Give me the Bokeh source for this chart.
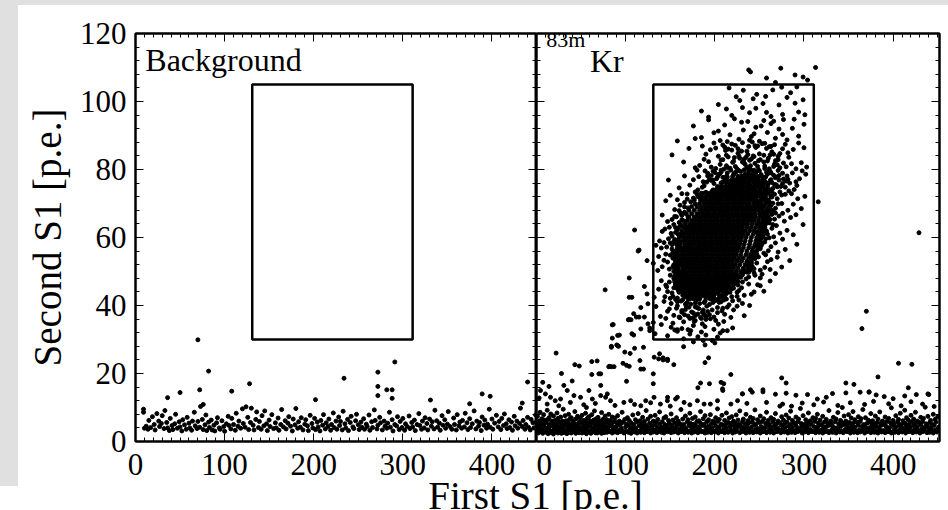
from bokeh.plotting import figure
from bokeh.models import (Range1d, LinearAxis, SingleIntervalTicker, Label, Row, Column,
                          CustomLabelingPolicy)
from bokeh.embed import file_html
from bokeh.resources import INLINE

# ---------------- data ----------------
x_ticks_step = 100
y_ticks_step = 20
cut_box = [131, 311, 30, 105]          # left, right, bottom, top  [p.e.]

bg_band = [
(9,8.6),(10,3.9),(12,4.5),(14,3.6),(15,6.2),(17,4.1),(19,7.3),(21,5.0),(22,3.4),(24,8.2),(26,6.0),(27,4.4),(29,5.3),(30,7.6),
(32,3.8),(33,9.1),(35,5.6),(36,4.0),(38,3.2),(39,6.8),(41,4.7),(42,3.5),(44,5.2),(45,8.0),(47,3.9),(49,5.8),(50,4.3),(52,3.1),(53,6.4),(55,4.9),
(57,3.6),(58,7.1),(60,5.4),(61,4.0),(63,3.3),(64,6.0),(66,8.6),(67,4.6),(69,3.8),(70,5.9),(72,4.2),(73,10.3),(75,6.5),(76,3.5),(78,4.9),(79,7.8),(80,3.2),
(82,5.7),(83,4.1),(85,6.3),(86,3.4),(88,4.8),(89,3.1),(91,5.5),(92,7.0),(94,4.0),(95,3.6),(97,6.1),(99,4.4),(100,3.0),(102,5.2),(104,7.4),(105,4.7),
(107,3.7),(108,6.8),(110,5.0),(112,3.3),(113,8.3),(115,4.5),(116,6.0),(118,3.9),(120,9.6),(121,5.3),(123,4.2),(124,10.2),(126,7.1),(127,3.5),(129,5.6),(130,9.8),
(132,4.8),(133,3.4),(135,6.5),(136,8.7),(138,4.1),(139,5.9),(141,3.6),(142,7.6),(144,4.6),(145,9.0),(147,5.2),(148,3.2),(150,6.3),(151,4.4),(153,7.9),(155,3.8),
(157,5.5),(158,4.0),(160,6.9),(161,3.3),(163,5.0),(164,9.4),(166,4.3),(168,6.1),(169,3.7),(171,5.4),(172,7.3),(174,4.5),(176,3.1),(177,6.6),(179,4.9),(180,9.7),
(182,3.9),(183,5.8),(185,4.2),(186,7.0),(188,3.4),(190,5.1),(191,6.4),(193,4.6),(194,3.2),(196,7.7),(198,5.3),(199,4.0),(201,6.8),(202,3.5),(204,5.7),(205,4.3),
(207,3.1),(208,6.2),(210,4.8),(211,7.9),(213,3.7),(214,5.5),(216,4.4),(217,6.6),(219,3.3),(220,5.0),(222,8.4),(223,4.1),(225,6.0),(226,3.6),(228,7.2),(229,4.7),(230,5.9),
(232,3.4),(233,8.9),(235,5.2),(236,4.0),(238,6.5),(239,3.2),(241,5.6),(242,7.4),(244,4.3),(245,3.8),(247,6.1),(248,8.0),(250,4.9),(251,3.5),(253,5.7),(254,4.2),
(256,6.7),(257,3.6),(259,5.1),(260,4.4),(262,7.8),(263,3.3),(265,5.8),(266,4.1),(268,9.3),(269,6.2),(271,3.7),(272,4.8),(274,7.1),(275,5.5),(277,3.4),(279,6.0),(280,4.5),
(282,3.9),(283,5.4),(285,8.6),(286,4.2),(288,6.4),(289,3.1),(291,5.0),(293,4.6),(294,7.3),(296,3.5),(297,5.9),(299,4.1),(300,6.8),(302,3.3),(303,5.2),(305,4.4),
(307,7.5),(308,3.8),(310,5.6),(311,4.3),(313,6.3),(314,3.2),(316,5.0),(318,8.2),(319,4.7),(321,3.6),(322,6.0),(324,4.0),(325,7.0),(327,5.3),(328,3.4),(330,6.6),
(332,4.5),(333,5.8),(335,3.7),(336,9.2),(338,6.1),(339,4.2),(341,5.4),(342,3.3),(344,7.6),(345,4.8),(347,6.4),(348,3.9),(350,5.1),(351,8.8),(353,4.4),(355,3.6),
(357,6.9),(358,5.0),(360,3.4),(361,7.9),(363,4.6),(364,5.7),(366,3.9),(367,6.2),(369,4.3),(370,8.3),(372,5.5),(373,3.5),(375,6.7),(376,4.1),(378,5.2),(380,9.0),
(382,3.7),(383,6.0),(385,4.5),(386,5.6),(388,3.2),(389,7.2),(391,4.8),(392,6.3),(394,3.9),(395,5.1),(397,9.5),(398,4.2),(400,6.6),(401,3.6),(403,5.4),(405,7.7),
(407,4.3),(408,5.9),(410,3.5),(411,6.8),(413,4.7),(414,8.1),(416,5.2),(417,3.8),(419,6.4),(420,4.1),(422,5.7),(423,3.3),(425,7.4),(426,4.6),(428,6.0),(429,3.9),
(431,5.3),(432,9.8),(434,4.4),(435,6.2),(437,3.6),(438,5.0),(440,7.1),(441,4.2),(443,3.4),(444,6.5),(446,5.5),(447,4.0),(449,7.8),(450,5.8),
]
bg_outliers = [
(70,29.9),(82,20.7),(72,15.2),(36,12.9),(50,14.4),(108,14.8),(128,17.0),(234,18.6),(272,20.4),(272,16.2),
(282,15.2),(288,15.2),(288,12.7),(272,13.5),(291,23.4),(440,17.5),(389,14.0),(398,13.3),(331,12.2),(375,11.1),
(434,11.3),(202,12.3),(76,10.9),(9,9.5),
]

kr_band = [
(0,5.1),(1,3.2),(1,7.4),(2,4.6),(2,2.5),(3,6.0),(3,3.8),(4,8.6),(4,5.3),(5,2.9),(5,4.2),(6,6.7),(6,3.5),(7,5.8),(7,2.4),(8,4.9),(8,7.9),(9,3.1),(9,6.3),(10,4.0),
(11,2.7),(11,5.5),(12,3.9),(12,9.2),(13,6.5),(13,2.3),(14,4.4),(14,7.0),(15,3.3),(15,5.0),(16,2.6),(16,8.1),(17,4.7),(17,6.0),(18,3.0),(18,5.4),(19,2.2),(19,7.5),(20,4.1),(20,3.4),
(21,6.2),(21,2.8),(22,5.0),(22,3.7),(23,8.4),(23,4.5),(24,2.5),(24,6.8),(25,3.6),(25,5.7),(26,2.9),(26,4.3),(27,7.2),(27,3.2),(28,5.2),(28,2.4),(29,6.0),(29,4.0),(30,3.1),(30,9.5),
(31,5.4),(31,2.6),(32,4.6),(32,7.6),(33,3.4),(33,6.1),(34,2.3),(34,4.9),(35,5.9),(35,3.0),(36,8.0),(36,4.2),(37,2.7),(37,6.5),(38,3.8),(38,5.1),(39,2.5),(39,7.0),(40,4.4),(40,3.3),
(41,6.0),(41,2.9),(42,5.3),(42,3.6),(43,8.8),(43,4.1),(44,2.4),(44,6.6),(45,3.9),(45,5.0),(46,2.8),(46,7.4),(47,4.5),(47,3.2),(48,5.8),(48,2.6),(49,6.9),(49,4.0),(50,3.4),(50,5.5),
(51,2.5),(51,7.7),(52,4.3),(52,3.1),(53,6.2),(53,5.0),(54,2.7),(54,4.7),(55,8.3),(55,3.5),(56,5.6),(56,2.3),(57,6.8),(57,4.2),(58,3.0),(58,5.1),(59,7.3),(59,2.8),(60,4.6),(60,6.0),
(61,3.3),(61,2.4),(62,5.4),(62,7.9),(63,4.0),(63,2.9),(64,6.3),(64,3.7),(65,5.2),(65,9.0),(66,2.6),(66,4.5),(67,6.7),(67,3.2),(68,5.7),(68,2.5),(69,4.3),(69,7.1),(70,3.6),(70,5.0),
(71,2.8),(71,6.1),(72,4.8),(72,3.4),(73,8.5),(73,2.4),(74,5.5),(74,4.0),(75,6.6),(75,3.0),(76,5.0),(76,2.6),(77,7.5),(77,4.4),(78,3.3),(78,5.9),(79,2.7),(79,6.4),(80,4.2),(80,3.5),
(81,5.3),(81,8.0),(82,2.9),(82,4.6),(83,6.2),(83,3.1),(84,5.0),(85,2.5),(85,7.2),(86,4.1),(86,3.6),(87,5.8),(88,2.8),(88,6.9),(89,4.4),(90,3.2),(90,5.6),
(91,2.6),(91,7.6),(92,4.9),(93,3.4),(93,6.0),(94,2.9),(95,5.3),(95,4.0),(96,8.6),(97,3.1),(97,5.7),(98,2.5),(99,6.5),(100,4.3),
(101,3.0),(101,5.1),(102,7.0),(103,2.7),(103,4.6),(104,6.2),(105,3.5),(106,5.5),(106,2.4),(107,4.2),(108,7.8),(108,3.2),(109,5.0),(110,2.8),
(111,6.4),(111,4.0),(112,3.3),(113,5.7),(113,2.5),(114,8.2),(115,4.6),(115,3.0),(116,6.1),(117,2.7),(118,5.2),(118,3.8),(119,7.1),(120,4.4),
(121,2.6),(121,5.9),(122,3.5),(123,4.8),(123,9.1),(124,2.9),(125,6.6),(125,4.1),(126,3.2),(127,5.4),(128,2.5),(128,7.4),(129,4.5),(130,3.6),
(131,6.0),(131,2.8),(132,4.9),(133,3.3),(133,7.7),(134,5.6),(135,2.6),(135,4.3),(136,6.5),(137,3.0),(138,5.2),(138,8.7),(139,3.9),(140,2.7),
(141,5.8),(141,4.2),(142,3.4),(143,6.9),(143,2.5),(144,5.0),(145,3.7),(145,7.3),(146,4.5),(147,2.9),(148,6.2),(148,3.2),(149,5.4),(150,4.0),
(151,2.6),(151,8.1),(152,4.7),(153,3.5),(153,6.3),(154,2.8),(155,5.5),(156,4.1),(156,3.0),(157,7.0),(158,4.9),(159,2.5),(159,6.0),(160,3.7),
(161,5.2),(162,2.9),(162,9.4),(163,4.4),(164,6.6),(164,3.3),(165,5.0),(166,2.6),(167,7.5),(167,4.0),(168,3.4),(169,5.7),(170,2.7),(170,6.4),
(171,4.6),(172,3.1),(172,8.3),(173,5.3),(174,2.5),(174,4.2),(175,6.8),(176,3.6),(177,5.1),(177,2.8),(178,7.2),(179,4.5),(180,3.2),(180,5.9),
(181,2.6),(182,6.1),(182,4.3),(183,3.5),(184,8.8),(184,5.4),(185,2.9),(186,4.7),(187,6.7),(187,3.0),(188,5.0),(189,2.5),(189,7.6),(190,4.1),
(191,3.3),(191,5.8),(192,2.7),(193,6.4),(193,4.5),(194,3.8),(195,7.9),(196,5.2),(196,2.6),(197,4.0),(198,6.0),(198,3.1),(199,5.5),(200,2.8),
(201,7.0),(201,4.6),(202,3.4),(203,5.9),(203,9.6),(204,2.5),(205,4.3),(205,6.5),(206,3.2),(207,5.1),(208,2.9),(208,7.7),(209,4.8),(210,3.6),
(211,6.2),(211,2.6),(212,5.0),(213,4.0),(213,8.4),(214,3.0),(215,5.6),(215,2.7),(216,6.9),(217,4.4),(218,3.3),(218,5.3),(219,7.3),(220,2.5),
(221,4.7),(221,6.0),(222,3.5),(223,5.4),(223,2.8),(224,7.8),(225,4.2),(225,3.1),(226,6.3),(227,5.0),(228,2.6),(228,9.0),(229,4.5),(230,3.7),
(231,5.7),(231,2.9),(232,6.6),(233,4.1),(233,3.2),(234,5.2),(235,8.0),(235,2.5),(236,4.6),(237,6.1),(237,3.6),(238,5.5),(239,2.7),(240,7.1),
(241,4.3),(241,3.0),(242,5.8),(243,2.6),(243,6.8),(244,4.9),(245,3.4),(245,9.3),(246,5.1),(247,2.8),(247,4.0),(248,6.4),(249,3.3),(250,5.6),
(251,2.5),(251,7.5),(252,4.4),(253,3.7),(253,5.9),(254,2.9),(255,6.7),(256,4.1),(256,3.1),(257,5.3),(258,8.6),(258,2.6),(259,4.7),(260,6.2),
(261,3.5),(261,5.0),(262,2.7),(263,7.0),(263,4.3),(264,3.2),(265,5.7),(266,2.5),(266,6.5),(267,4.6),(268,3.8),(268,8.2),(269,5.2),(270,2.9),
(271,6.0),(271,4.0),(272,3.3),(273,5.5),(273,10.4),(274,2.6),(275,4.8),(275,7.3),(276,3.6),(277,6.3),(278,2.8),(278,5.1),(279,4.2),(280,7.8),
(281,3.0),(281,5.7),(282,2.5),(283,4.5),(283,6.9),(284,3.4),(285,5.0),(285,8.9),(286,2.7),(287,4.1),(287,6.2),(288,3.2),(289,5.4),(290,2.6),
(291,7.2),(291,4.7),(292,3.5),(293,5.8),(293,2.9),(294,6.6),(295,4.0),(296,3.1),(296,9.7),(297,5.3),(298,2.5),(298,4.6),(299,7.6),(300,3.7),
(301,5.1),(301,2.8),(302,6.4),(303,4.3),(303,3.3),(304,5.6),(305,8.4),(305,2.6),(306,4.9),(307,6.1),(307,3.5),(308,5.2),(309,2.9),(310,7.0),
(311,4.4),(311,3.0),(312,5.9),(313,2.6),(313,6.8),(314,4.1),(315,3.6),(315,8.0),(316,5.4),(317,2.7),(317,4.7),(318,6.3),(319,3.3),(320,5.0),
(321,2.5),(321,7.4),(322,4.2),(323,3.8),(323,5.7),(324,2.9),(325,6.5),(326,4.5),(326,3.1),(327,5.3),(328,9.1),(328,2.6),(329,4.8),(330,6.0),
(331,3.4),(331,5.0),(332,2.7),(333,7.1),(333,4.3),(334,3.2),(335,5.8),(336,2.5),(336,6.6),(337,4.0),(338,3.6),(338,8.5),(339,5.2),(340,2.8),
(341,6.2),(341,4.4),(342,3.1),(343,5.5),(343,10.0),(344,2.6),(345,4.9),(345,7.5),(346,3.5),(347,6.0),(348,2.9),(348,5.1),(349,4.1),(350,7.9),
(351,3.2),(351,5.6),(352,2.5),(353,4.6),(353,6.9),(354,3.7),(355,5.3),(355,8.8),(356,2.7),(357,4.2),(357,6.4),(358,3.0),(359,5.7),(360,2.6),
(361,7.3),(361,4.8),(362,3.4),(363,5.9),(363,2.8),(364,6.7),(365,4.3),(366,3.2),(366,9.4),(367,5.0),(368,2.5),(368,4.5),(369,7.0),(370,3.8),
(371,5.4),(371,2.9),(372,6.3),(373,4.0),(373,3.3),(374,5.8),(375,8.2),(375,2.6),(376,4.7),(377,6.1),(377,3.6),(378,5.1),(379,2.7),(380,7.5),
(381,4.4),(381,3.1),(382,5.6),(383,2.5),(383,6.6),(384,4.2),(385,3.5),(385,8.7),(386,5.3),(387,2.8),(387,4.8),(388,6.0),(389,3.2),(390,5.0),
(391,2.6),(391,7.2),(392,4.5),(393,3.9),(393,5.9),(394,2.9),(395,6.8),(396,4.1),(396,3.0),(397,5.5),(398,9.9),(398,2.5),(399,4.6),(400,6.2),
(401,3.4),(401,5.2),(402,2.7),(403,7.6),(403,4.3),(404,3.1),(405,5.7),(406,2.6),(406,6.5),(407,4.8),(408,3.7),(408,8.3),(409,5.0),(410,2.8),
(411,6.1),(411,4.0),(412,3.3),(413,5.4),(413,9.2),(414,2.5),(415,4.6),(415,7.0),(416,3.6),(417,6.3),(418,2.9),(418,5.1),(419,4.2),(420,7.7),
(421,3.1),(421,5.8),(422,2.6),(423,4.7),(423,6.6),(424,3.5),(425,5.3),(425,8.6),(426,2.8),(427,4.3),(427,6.0),(428,3.2),(429,5.6),(430,2.5),
(431,7.1),(431,4.9),(432,3.7),(433,5.9),(433,2.9),(434,6.8),(435,4.1),(436,3.0),(436,10.1),(437,5.2),(438,2.6),(438,4.5),(439,7.4),(440,3.8),
(441,5.5),(441,2.7),(442,6.2),(443,4.4),(443,3.3),(444,5.0),(445,8.0),(445,2.5),(446,4.8),(447,6.5),(447,3.4),(448,5.7),(449,2.8),(450,7.3),(451,4.2),(451,3.6),
]
kr_band_upper = [
(4.5,15),(10,14),(15.7,13),(21,12),(27,12.5),(30.7,16.5),(34.5,15),(42,13.5),(49.4,13),(58.8,15),(62.6,12.5),(72,13.5),(72,16.5),
(77.5,13),(79.4,14),(83,12),(98,11.5),(105.6,12),(117,10.5),(122.5,12),(131.8,13),(139,11),(146.8,12),(158,13),(165.5,11.5),
(180.5,12),(188,11),(203,12),(208.6,15.5),(210,17),(218,11),(225.5,12),(231,14),(242,14.5),(254,14.6),(268,13.9),(280,14.2),
(291,13.6),(304,13.8),(315,12.5),(325,13.0),(332,14.1),(347,14.3),(363,14.5),(373,14.6),(381,13.7),(390,13.2),(400,12.6),
(413,13.4),(426,13.8),(439,14.0),(236,11.2),(258,11.5),(276,11.0),(286,10.4),(298,11.3),(311,10.8),(322,11.6),(338,10.6),
(352,11.4),(368,10.9),(378,11.8),(395,11.1),(409,10.5),(420,11.7),(433,11.0),(446,10.3),(12,11),(25,10.5),(38,11.5),
(53,10.8),(66,11.2),(88,10.6),(110,10.9),(128,11.4),(150,10.4),(172,10.8),(195,11.0),(14,16.2),(40,17.8),(56,10),(3,12.8),
]
kr_tail = [
(7,17.4),(28,20),(22,26),(43,22.6),(48,22.2),(62,23.5),(68,23.7),(62,19.7),(70,19.9),(72,19.9),(81,22),(84,22),(87,22),
(85,34.3),(85,30.4),(84,28),(90,28.4),(92,28),(93,31.3),(104,35.9),(107,31.7),(109,31.3),(110,27.4),(105,25.9),(97,23),
(104,22.1),(101,17.7),(112,36.6),(117,39.4),(121,36.6),(117,21.3),(120,21.3),(125,34.6),(127,33.4),(133,31.7),(131,19.9),
(131,17),(138,25.8),(142,24.6),(147,24.2),(154,22.6),(165,27.9),(189,23.2),(193,24.6),(218,19.7),(77,44.6),(86,34.4),
(91,31.2),(84,27.7),(91,28.2),(82,22.1),(104,48.1),(104,42.4),(107,42.4),(103,35.8),(106,35.8),(99,26.3),(101,22.4),
(116,23.8),(120,27.7),(117,33.1),(109,37.6),(115,36.6),(124,53.2),(121,45.6),(124,43.4),(125,40.5),(127,32.6),(132,24.8),
(137,24.3),(142,24),(147,23.8),(181,15.8),(184,17.2),(194,17),(187,29.7),(173,32.6),(155,32.8),(158,32.9),(207,17.4),
(209,15),(203,30.7),(209,32.6),(275,18.7),(280,17.2),(370,38.3),(365,33.2),(406,23),(421,22.7),(383,19),(417,15.8),
(440,13.8),(347,17.2),(356,16.8),(373,14.5),(254,15.2),(231,14),(240,15.2),(147,13),(156,12.5),(114,56),(110,62.2),
]
# the solid core of the 83mKr cluster: (second S1, [first S1 values])
kr_core_rows = [
(42, [170,176,183,190,197,204]),
(43, [164,169,174,179,184,189,194,199,205,211]),
(44, [160,164,168,172,176,180,184,188,192,196,200,204,209,214]),
(45, [158,162,166,170,173,177,181,185,189,193,197,201,205,209,213,218]),
(46, [156,160,163,167,171,174,178,182,186,189,193,197,201,205,208,212,216,221]),
(47, [155,159,162,166,169,173,177,180,184,188,191,195,199,202,206,210,214,218,223]),
(48, [154,158,161,165,168,172,175,179,183,186,190,194,197,201,205,208,212,216,220,225]),
(49, [156,159,163,166,170,174,177,181,184,188,192,195,199,202,206,210,213,217,221,226,231]),
(50, [154,157,161,165,168,172,176,179,183,186,190,193,197,201,204,208,211,215,219,224,229,234]),
(51, [155,159,164,167,171,174,178,181,185,188,192,195,199,202,206,210,213,217,221,226,232,237]),
(52, [154,158,162,165,169,172,176,179,183,187,190,194,197,201,204,208,212,215,219,223,228,234,239]),
(53, [156,160,163,167,170,174,177,181,184,188,192,195,199,202,206,209,213,216,220,225,230,236,241]),
(54, [154,157,161,165,168,172,175,179,182,186,189,193,196,200,204,207,211,214,218,222,227,232,238,243]),
(55, [155,159,163,166,170,173,177,180,184,187,191,195,198,202,205,209,212,216,220,224,229,235,240,245]),
(56, [156,160,164,168,171,175,178,182,185,189,192,196,199,203,207,210,214,217,221,225,230,236,242,247]),
(57, [158,162,165,169,172,176,180,183,187,190,194,197,201,204,208,212,215,219,223,227,232,238,243,248]),
(58, [157,161,166,170,173,177,181,184,188,191,195,198,202,206,209,213,216,220,224,228,233,239,245,250]),
(59, [159,163,167,171,175,178,182,185,189,193,196,200,203,207,210,214,218,221,225,229,234,240,246,251]),
(60, [160,165,169,172,176,180,183,187,190,194,197,201,205,208,212,215,219,222,226,230,235,241,247,252]),
(61, [162,166,170,174,177,181,185,188,192,195,199,202,206,209,213,217,220,224,228,232,237,243,249,254]),
(62, [163,168,172,176,179,183,186,190,193,197,201,204,208,211,215,218,222,226,230,234,239,244,250,255]),
(63, [165,170,174,177,181,184,188,192,195,199,202,206,209,213,217,220,224,227,231,236,241,246,251,256]),
(64, [167,172,176,179,183,187,190,194,197,201,204,208,212,215,219,222,226,230,233,237,242,247,252,257]),
(65, [169,174,178,182,185,189,192,196,199,203,207,210,214,217,221,225,228,232,236,240,244,249,254,258]),
(66, [171,177,181,184,188,191,195,199,202,206,209,213,216,220,224,227,231,234,238,242,246,251,256,260]),
(67, [174,180,184,187,191,194,198,201,205,209,212,216,219,223,226,230,234,237,241,245,250,254,259]),
(68, [177,183,187,190,194,198,201,205,208,212,215,219,223,226,230,233,237,241,245,249,253,258,262]),
(69, [180,185,189,192,196,199,203,207,210,214,217,221,224,228,231,235,238,242,246,250,255,260]),
(70, [183,188,192,195,199,202,206,209,213,216,220,224,227,231,235,239,244,248,252,257,262]),
(71, [187,191,195,198,202,205,209,213,216,220,223,227,230,234,238,242,246,251,255,260]),
(72, [190,195,199,202,206,209,213,216,220,223,227,231,235,239,243,247,252,257,263]),
(73, [194,199,203,207,210,214,218,221,225,229,232,236,240,244,249,254,260]),
(74, [198,203,207,211,215,219,222,226,230,234,238,242,246,251,256,262]),
(75, [203,208,212,216,220,224,228,232,236,240,244,249,254,259]),
(76, [207,213,218,222,226,230,234,238,243,248,253,258]),
(77, [213,219,224,229,234,239,244,249,255]),
(78, [220,226,232,238,244,250]),
]
# the dense ring just round the core
kr_ring = [
(199,73.9),(205,74.6),(212,73.6),(217,75.1),(223,74.0),(228,74.9),(233,73.2),(239,75.4),(244,74.1),(249,73.0),(254,75.7),(259,74.3),(264,73.5),(270,74.9),
(196,76.8),(202,77.3),(208,76.2),(214,77.8),(219,76.9),(225,76.1),(230,77.0),(236,76.4),(241,78.0),(246,77.4),(252,78.5),(257,77.8),(262,76.7),(268,77.9),
(201,80.3),(207,79.2),(213,81.1),(218,79.8),(223,80.9),(229,79.4),(234,81.5),(240,80.1),(245,81.8),(250,79.6),(256,81.0),(261,80.2),(267,81.6),(273,80.5),
(209,82.9),(215,83.7),(221,82.4),(227,84.0),(233,83.1),(239,82.7),(244,83.8),(249,82.6),(255,84.2),(260,83.3),(266,84.5),(271,82.9),
(206,71.6),(212,72.2),(218,71.9),(224,72.5),(230,71.3),(236,72.7),(241,71.8),(246,70.6),(251,72.4),(256,71.1),(261,70.5),
(181,74.0),(186,71.8),(190,73.3),(194,70.9),(197,72.4),(203,70.2),(209,69.8),(229,73.7),(247,75.5),(253,76.6),(263,79.0),(238,78.6),
(231,82.2),(214,80.6),(204,78.5),(222,78.9),(243,79.3),(258,73.1),(267,75.6),(272,78.2),(277,81.9),(282,77.1),(276,75.9),(198,79.5),
(192,78.1),(187,76.4),(226,86.1),(236,85.4),(248,86.9),(256,87.7),(242,88.1),(219,85.7),(263,86.8),(211,86.6),
(168,45.3),(173,46.4),(179,45.0),(184,46.9),(190,45.6),(195,46.7),(200,44.8),(206,46.2),(211,45.4),(216,46.8),(221,45.1),(226,46.0),
(165,47.5),(171,48.3),(176,47.8),(182,48.6),(187,47.4),(193,48.2),(198,47.6),(203,48.9),(208,47.9),(213,48.5),(218,48.0),(223,49.0),(229,48.3),
(163,44.1),(169,43.0),(175,44.4),(180,43.7),(186,42.9),(191,44.6),(196,43.4),(202,44.0),(207,42.8),(213,43.5),(218,44.7),
(162,41.3),(167,40.4),(172,41.9),(178,40.7),(183,42.0),(189,41.2),(194,40.3),(199,42.3),(205,40.9),(210,41.6),
(157,39.2),(163,38.5),(168,39.7),(174,38.1),(180,39.4),(186,38.0),(191,39.8),(197,38.7),(203,37.9),
(160,36.6),(166,37.3),(172,36.2),(178,37.0),(184,36.5),(190,35.9),(153,42.7),(156,46.3),(159,44.5),(150,48.9),(155,50.9),(145,46.0),
(188,37.4),(195,36.1),(201,35.6),(208,38.4),(214,39.5),(220,41.4),(225,43.9),(231,46.9),(236,49.8),(184,44.3),(172,44.9),(177,42.5),
(192,47.0),(210,49.2),(167,48.9),(198,40.9),(183,40.6),(162,49.8),(171,39.5),(177,35.3),(186,34.6),(158,41.1),
(152,57.9),(157,55.3),(155,59.4),(158,62.2),(161,60.4),(159,57.0),(163,61.4),(154,63.8),(160,63.0),(165,64.9),(167,62.9),(162,67.1),
(168,66.9),(171,68.0),(166,69.0),(173,70.5),(177,71.0),(180,72.8),(185,73.0),(156,52.3),(153,51.4),(159,53.7),(150,58.4),(155,66.2),(169,71.3),
(241,52.4),(237,53.1),(243,55.8),(247,58.8),(250,62.0),(253,62.9),(255,65.8),(258,67.0),(254,69.2),(252,71.6),(248,70.0),(244,55.3),
(240,50.5),(233,50.2),(238,49.8),(246,61.6),(249,64.0),(259,61.0),(262,65.3),(257,59.6),(265,63.8),(268,67.2),(261,70.4),(257,72.9),(251,74.3),
]
# the looser halo of the cluster
kr_halo = [
(178,73.4),(186,74.8),(193,72.6),(199,75.9),(204,73.1),(211,76.7),(215,74.2),(222,72.9),(226,77.5),(231,75.3),(236,73.8),(242,78.4),(247,76.1),(251,74.6),(258,79.2),(263,77.0),(269,75.5),(276,78.9),(283,73.7),(291,76.4),
(182,77.9),(189,79.6),(196,78.2),(201,74.0),(207,79.8),(213,78.0),(218,75.6),(224,79.3),(229,73.5),(234,78.7),(239,76.6),(245,74.3),(249,79.9),(254,77.7),(261,73.9),(266,78.3),(272,76.9),(279,74.8),(287,79.0),(295,77.3),
(184,72.3),(191,76.3),(197,73.6),(203,77.8),(208,75.1),(214,79.0),(220,77.2),(225,74.7),(232,76.0),(238,79.5),(243,72.8),(248,77.9),(253,75.7),(259,78.6),(265,74.4),(271,79.7),(277,77.2),(284,76.0),(172,75.4),(166,78.1),
(188,75.2),(194,77.1),(200,79.1),(206,72.5),(212,77.4),(217,73.3),(221,78.5),(228,76.8),(233,79.9),(237,74.9),(241,77.3),(246,79.1),(252,73.2),(256,76.5),(262,79.4),(267,72.7),(274,75.0),(281,78.1),(289,74.1),(298,79.6),
(180,79.8),(187,73.0),(192,78.9),(198,76.9),(205,78.6),(210,73.4),(216,76.4),(223,75.0),(227,79.7),(235,77.6),(240,74.5),(244,79.8),(250,76.3),(255,72.4),(260,75.8),(268,77.6),(273,73.4),(280,76.6),(286,72.9),(302,78.6),
(176,77.0),(209,77.7),(230,78.1),(257,74.0),(264,76.2),(275,72.5),(292,75.3),(160,74.6),(169,72.8),(148,76.9),
(183,81.2),(190,84.5),(196,80.7),(201,86.3),(207,82.8),(212,85.6),(217,80.4),(223,87.1),(228,83.3),(233,81.9),(238,86.8),(243,84.0),(248,80.9),(253,87.6),(259,82.5),(264,85.2),(270,81.4),(276,86.1),(283,83.6),(291,80.2),
(186,86.9),(193,82.3),(199,87.8),(204,83.9),(210,80.1),(215,86.0),(220,82.1),(226,84.8),(231,87.9),(236,80.6),(241,83.1),(246,86.5),(251,82.9),(256,80.3),(262,84.3),(267,87.3),(273,84.7),(280,80.8),(288,85.9),(297,82.0),
(188,83.0),(195,85.8),(206,81.5),(213,84.2),(219,87.5),(225,80.2),(230,85.4),(235,83.6),(240,81.1),(245,87.0),(250,84.6),(255,82.2),(261,86.7),(266,80.9),(271,83.9),(279,87.4),(286,81.7),(300,86.4),(152,84.3),(165,82.2),
(171,86.2),(178,80.5),(209,87.2),(222,83.5),(237,84.4),(258,86.2),(268,82.6),(282,84.9),(294,87.8),(303,80.7),
(176,92.8),(185,89.4),(193,94.6),(199,90.8),(206,88.5),(211,93.1),(217,90.2),(222,94.9),(227,88.9),(232,91.6),(237,94.1),(241,89.7),(246,92.4),(250,88.3),(255,94.4),(259,90.9),(263,93.5),(268,89.2),(272,91.9),(277,94.7),
(281,88.7),(287,92.1),(294,89.8),(300,93.3),(158,88.4),(178,89.1),(204,91.3),(214,88.2),(230,93.9),(244,90.5),(252,92.8),(266,94.2),(276,90.3),(289,94.8),(239,88.6),
(185,97.2),(193,95.4),(204,99.1),(213,97.8),(219,95.9),(228,100.3),(231,98.2),(239,96.7),(243,100.8),(246,98.0),(254,99.4),(258,96.8),(263,95.6),(265,103.4),(272,99.0),(276,96.2),(281,101.2),(290,99.5),(294,96.9),(299,100.5),
(216,104.0),(292,104.3),(247,102.1),(285,102.6),(275,104.2),(232,103.3),(257,101.5),(301,96.1),(224,101.4),
(238,109.3),(240,108.7),(274,109.8),(313,110.0),(304,106.3),(290,107.8),(258,106.9),(299,107.2),(268,105.6),
(137,44.8),(144,42.6),(149,46.9),(152,43.7),(155,47.6),(158,42.2),(161,45.1),(163,47.9),(166,43.4),(168,46.2),(171,42.8),(173,44.9),(176,47.3),(178,43.1),(181,45.7),(183,42.4),(186,47.0),(188,44.3),(191,46.5),(193,42.9),
(196,45.4),(198,47.7),(201,43.6),(204,46.0),(207,42.5),(210,44.7),(213,47.4),(217,43.9),(221,46.6),(225,42.7),(230,45.2),(235,47.8),(241,43.3),(248,46.1),(255,44.2),(262,47.2),(140,47.3),(146,45.5),(150,42.1),(157,45.8),
(160,43.9),(165,45.0),(170,47.1),(175,45.6),(180,42.9),(185,44.0),(190,43.2),(195,42.3),(200,45.9),(205,44.5),(209,47.0),(214,45.6),(219,42.6),(227,44.4),(233,43.0),(238,46.3),(244,44.0),(132,42.4),(147,44.1),(154,45.2),
(159,47.1),(167,42.6),(174,44.2),(182,47.5),(189,45.1),(197,43.7),(203,47.5),(211,42.3),(222,47.9),(251,45.8),
(134,39.7),(139,36.8),(143,41.2),(147,38.3),(151,40.6),(154,37.1),(158,39.9),(161,36.4),(164,41.7),(167,38.8),(170,36.9),(173,40.4),(176,37.8),(179,41.5),(182,39.1),(185,36.2),(188,40.9),(192,38.2),(195,41.9),(199,36.6),
(203,39.4),(207,41.1),(211,37.4),(216,40.2),(221,38.7),(227,41.6),(233,37.0),(239,40.0),(145,36.2),(156,41.8),(163,38.0),(169,40.9),(175,36.3),(181,37.5),(187,38.7),(194,37.3),(201,41.5),(209,39.2),(218,36.5),(225,39.8),
(149,39.0),(178,39.6),(190,36.8),(213,41.9),(231,40.6),
(189,28.4),(176,29.3),(200,29.0),(165,30.2),(181,30.8),(197,29.7),(147,31.1),(172,31.6),(190,31.3),(206,31.9),(158,32.4),(170,32.9),(185,32.2),(199,33.0),(214,32.6),(151,33.6),(163,33.2),(176,34.1),(189,33.8),(204,34.5),
(220,33.4),(140,34.4),(153,34.8),(165,35.2),(178,35.6),(131,35.0),(210,35.3),
(136,50.3),(149,50.7),(141,51.4),(131,52.4),(147,52.8),(143,53.3),(137,54.4),(150,54.8),(145,55.1),(153,55.6),(115,56.3),(140,56.9),(134,57.7),(146,57.2),(154,58.8),(143,58.5),(138,59.0),(148,59.6),(152,60.4),(159,60.9),
(141,61.8),(151,61.2),(144,62.5),(156,62.9),(149,63.0),(162,63.7),(147,64.7),(160,64.4),(152,65.3),(163,66.5),(141,66.6),(157,66.1),(166,67.4),(160,67.9),(155,68.2),(170,68.7),(161,69.5),(174,69.1),(145,70.8),(166,70.3),
(176,71.6),(158,71.1),(150,72.4),(163,72.9),(181,72.0),(155,48.6),(160,46.8),(158,50.2),(153,53.9),(152,56.6),(156,61.5),(163,65.2),(170,66.0),(178,69.9),(184,71.0),
(238,48.4),(245,48.9),(251,48.1),(244,49.6),(253,49.2),(268,49.4),(244,50.8),(251,50.4),(262,50.6),(242,51.5),(256,51.2),(275,51.3),(247,52.5),(259,52.9),(245,53.8),(263,53.5),(284,53.2),(249,54.3),(257,54.9),(270,54.2),
(247,55.0),(255,55.4),(271,55.7),(251,56.7),(260,56.1),(279,56.5),(249,57.1),(252,57.6),(263,57.3),(253,58.2),(256,58.7),(268,58.4),(292,58.0),(250,59.3),(252,59.8),(261,59.9),(276,59.5),(254,60.6),(266,60.2),(288,60.8),
(252,61.5),(258,61.9),(273,61.3),(257,62.1),(264,62.7),(281,62.1),(256,63.6),(269,63.5),(299,63.8),(261,64.3),(278,64.8),(259,65.5),(267,65.4),(285,65.9),(264,66.8),(272,66.3),(291,66.7),(263,67.6),(276,67.1),(265,68.0),
(268,68.6),(282,68.0),(297,68.5),(263,69.4),(271,69.9),(288,69.8),(265,70.1),(275,70.0),(316,70.5),(264,71.9),(270,71.4),(293,71.4),(263,72.2),(279,72.7),(301,72.1),(429,61.4),
(226,47.1),(231,49.5),(237,51.9),(241,54.6),(246,57.8),(249,60.9),(254,64.6),(255,67.3),(250,70.4),(246,72.9),
]

# ---------------- assemble ----------------
bg_pts = bg_band + bg_outliers
bg_x = [p[0] for p in bg_pts]
bg_y = [p[1] for p in bg_pts]

kr_pts = kr_band + kr_band_upper + kr_tail + kr_halo + kr_ring
for yv, xs in kr_core_rows:
    for xv in xs:
        kr_pts.append((xv, yv))
kr_x = [p[0] for p in kr_pts]
kr_y = [p[1] for p in kr_pts]

FONT = "Liberation Serif"
PANEL_H = 492
FRAME_TOP = 33
FRAME_BOTTOM = 441
TITLE_H = 40
OVERLAP = PANEL_H + TITLE_H - 510

hide_all = "for (const i of [...indices]) { indices.unset(i) }\nreturn indices"


def style_axis(ax, show_labels, ticker):
    ax.ticker = ticker
    ax.axis_line_color = "black"
    ax.axis_line_width = 2
    ax.major_tick_in = 8
    ax.major_tick_out = 0
    ax.minor_tick_in = 4
    ax.minor_tick_out = 0
    ax.major_tick_line_color = "black"
    ax.minor_tick_line_color = "black"
    ax.major_tick_line_width = 1
    ax.minor_tick_line_width = 1
    ax.major_label_text_font = FONT
    ax.major_label_text_color = "black"
    if show_labels:
        ax.major_label_text_font_size = "31px"
    else:
        ax.major_label_text_font_size = "0px"
        ax.major_label_standoff = 0
        ax.major_label_policy = CustomLabelingPolicy(code=hide_all)


def make_panel(xmax, width, border_left, border_right, left_labels):
    p = figure(width=width, height=PANEL_H,
               x_range=Range1d(0, xmax), y_range=Range1d(0, 120),
               output_backend="svg", toolbar_location=None,
               min_border_left=border_left, min_border_right=border_right,
               min_border_top=FRAME_TOP, min_border_bottom=PANEL_H - FRAME_BOTTOM)
    p.border_fill_color = None
    p.background_fill_color = "white"
    p.outline_line_color = "black"
    p.outline_line_width = 2
    p.xgrid.visible = False
    p.ygrid.visible = False
    style_axis(p.xaxis[0], True, SingleIntervalTicker(interval=x_ticks_step, num_minor_ticks=10))
    p.xaxis[0].major_label_standoff = 12
    style_axis(p.yaxis[0], left_labels, SingleIntervalTicker(interval=y_ticks_step, num_minor_ticks=5))
    if left_labels:
        p.yaxis[0].major_label_standoff = 9
    top = LinearAxis()
    style_axis(top, False, SingleIntervalTicker(interval=x_ticks_step, num_minor_ticks=10))
    p.add_layout(top, "above")
    right = LinearAxis()
    style_axis(right, False, SingleIntervalTicker(interval=y_ticks_step, num_minor_ticks=5))
    p.add_layout(right, "right")
    l, r, b, t = cut_box
    p.quad(left=[l], right=[r], bottom=[b], top=[t], fill_color=None,
           line_color="black", line_width=2.5)
    return p


p1 = make_panel(450, 536, 135, 0, True)
p1.yaxis[0].axis_label = "Second S1 [p.e.]"
p1.yaxis[0].axis_label_text_font = FONT
p1.yaxis[0].axis_label_text_font_size = "39px"
p1.yaxis[0].axis_label_text_font_style = "normal"
p1.yaxis[0].axis_label_text_color = "black"
p1.yaxis[0].axis_label_standoff = 8
p1.scatter(bg_x, bg_y, size=4, color="black", marker="circle")
p1.add_layout(Label(x=11, y=112.2, text="Background", text_font=FONT,
                    text_font_size="32px", text_color="black", text_baseline="alphabetic"))

p2 = make_panel(452, 412, 0, 9, False)
p2.scatter(kr_x, kr_y, size=4, color="black", marker="circle")
p2.add_layout(Label(x=11, y=118.2, text="83m", text_font=FONT,
                    text_font_size="22px", text_color="black", text_baseline="alphabetic"))
p2.add_layout(Label(x=60, y=111.8, text="Kr", text_font=FONT,
                    text_font_size="32px", text_color="black", text_baseline="alphabetic"))

pt = figure(width=948, height=TITLE_H, x_range=Range1d(0, 948), y_range=Range1d(0, TITLE_H),
            output_backend="svg", toolbar_location=None, min_border=0,
            x_axis_type=None, y_axis_type=None)
pt.border_fill_color = None
pt.background_fill_color = None
pt.outline_line_color = None
pt.grid.visible = False
pt.add_layout(Label(x=535, y=15, text="First S1 [p.e.]", text_font=FONT, text_font_size="39px",
                    text_color="black", text_align="center", text_baseline="alphabetic"))
pt.styles = {"transform": "translateY(-%dpx)" % OVERLAP}

layout = Column(children=[Row(children=[p1, p2]), pt],
                styles={"background": "linear-gradient(#e0e0e0,#e0e0e0) 0 0/100% 5px no-repeat, "
                                       "linear-gradient(#e0e0e0,#e0e0e0) 0 0/18px 486px no-repeat, #ffffff",
                        "overflow": "hidden", "max-height": "510px"})

open("out.html", "w").write(file_html(layout, INLINE))
